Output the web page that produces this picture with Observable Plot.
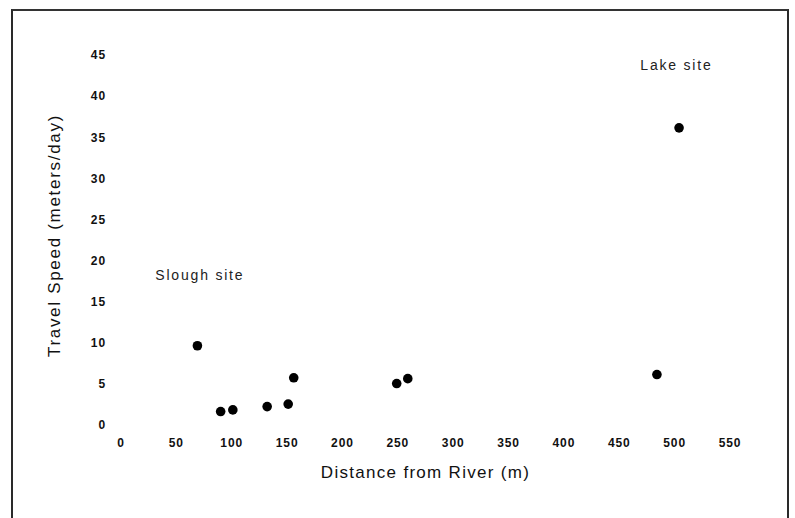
<!DOCTYPE html>
<html>
<head>
<meta charset="utf-8">
<script src="https://cdn.jsdelivr.net/npm/d3@7"></script>
<script src="https://cdn.jsdelivr.net/npm/@observablehq/plot@0.6"></script>
<style>
  html, body { margin: 0; padding: 0; background: #fff; }
  #wrap { position: relative; width: 795px; height: 518px; overflow: hidden; }
  #frame { position: absolute; left: 11px; top: 9px; width: 774px; height: 520px;
           border-left: 2px solid #2a2a2a; border-top: 2px solid #333; border-right: 2px solid #2a2a2a; }
  #chart { position: absolute; left: 0; top: 0; }
</style>
</head>
<body>
<div id="wrap"><div id="frame"></div><div id="chart"></div></div>
<script>
// Data
const distance = [69, 90, 101, 132, 151, 156, 249, 259, 484, 504];
const speed    = [9.7, 1.7, 1.9, 2.3, 2.6, 5.8, 5.1, 5.7, 6.2, 36.2];

const xTicks = [0, 50, 100, 150, 200, 250, 300, 350, 400, 450, 500, 550];
const yTicks = [0, 5, 10, 15, 20, 25, 30, 35, 40, 45];

const siteNames = ["Slough site", "Lake site"];
const siteX = [31, 469];
const siteY = [18.2, 43.8];

const xTitle = "Distance from River (m)";
const yTitle = "Travel Speed (meters/day)";

const points = distance.map((d, i) => ({distance: d, speed: speed[i]}));
const sites = siteNames.map((n, i) => ({name: n, x: siteX[i], y: siteY[i]}));

const chart = Plot.plot({
  width: 795,
  height: 518,
  marginLeft: 120.5,
  marginRight: 65.5,
  marginTop: 55,
  marginBottom: 93,
  style: {fontFamily: "'Liberation Sans', Arial, Helvetica, sans-serif", background: "transparent", color: "#111"},
  x: {domain: [0, 550]},
  y: {domain: [0, 45]},
  marks: [
    Plot.axisX({ticks: xTicks, tickSize: 0, tickPadding: 13, label: null, fontSize: 12, fontWeight: "bold"}),
    Plot.axisY({ticks: yTicks, tickSize: 0, tickPadding: 15, label: null, fontSize: 12, fontWeight: "bold"}),
    Plot.dot(points, {x: "distance", y: "speed", r: 4.8, fill: "#000", stroke: "none"}),
    Plot.text(sites, {x: "x", y: "y", text: "name", textAnchor: "start", fontSize: 14, fill: "#222"}),
    Plot.text([xTitle], {frameAnchor: "bottom", textAnchor: "middle", dy: 52, fontSize: 17, fill: "#111"}),
    Plot.text([yTitle], {frameAnchor: "left", textAnchor: "middle", dx: -66, dy: -5, rotate: -90, fontSize: 17, fill: "#111"})
  ]
});
document.getElementById("chart").appendChild(chart);

// letter spacing to match the wide scanned lettering
d3.select(chart).selectAll("text").each(function() {
  const t = this.textContent;
  let ls = 0.9;
  if (t === xTitle) ls = 1.3;
  else if (t === yTitle) ls = 1.7;
  else if (siteNames.includes(t)) ls = 1.8;
  d3.select(this).attr("letter-spacing", ls);
});
</script>
</body>
</html>
